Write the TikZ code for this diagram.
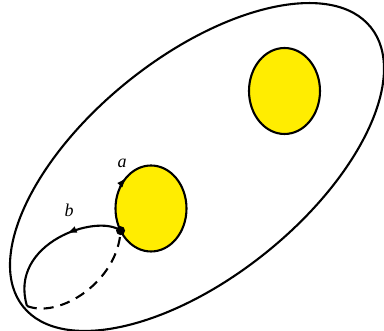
\documentclass[tikz,border=0pt]{standalone}
\usepackage{fontspec}
\setmainfont{Liberation Serif}
\usetikzlibrary{shapes.geometric,decorations.markings,arrows.meta}

\begin{document}
\begin{tikzpicture}[
  x=1pt, y=1pt,
  line width=2.1pt,
  hole/.style={draw, ellipse, fill=yellow!95!orange, inner sep=0pt, outer sep=0pt,
    minimum width=71pt, minimum height=86pt},
  lbl/.style={font=\fontsize{18}{21}\selectfont\itshape},
  midarrow/.style={postaction={decorate}, decoration={markings,
    mark=at position #1 with {\arrow{Latex[length=10pt,width=7pt]}}}}
]
  \useasboundingbox (0,0) rectangle (384,331);
  % surface and holes
  \node[draw, ellipse, rotate=38.8, inner sep=0pt, outer sep=0pt,
    minimum width=446pt, minimum height=220pt] (surf) at (197,164) {};
  \node[hole] (hole1) at (151,122.5) {};
  \node[hole] (hole2) at (284.5,240) {};

  \coordinate (base) at ([shift={(211:35.5pt and 43pt)}]hole1.center);
  \coordinate (tip) at (27,25);

  % loop a
  \draw[-{Latex[length=10pt,width=7pt]}] ([shift={(150:35.5pt and 43pt)}]hole1.center)
    arc[start angle=150, end angle=134, x radius=35.5pt, y radius=43pt];
  \node[lbl] (la) at (122,168) {a};

  % loop b
  \draw[midarrow=0.38] (base) .. controls (97,118) and (8,88) .. (tip);
  \draw[dashed, dash pattern=on 10pt off 7pt] (tip) .. controls (60,12) and (118,50) .. (base);
  \node[lbl] (lb) at (69,121) {b};

  \fill (base) circle (4.5pt);
\end{tikzpicture}
\end{document}
